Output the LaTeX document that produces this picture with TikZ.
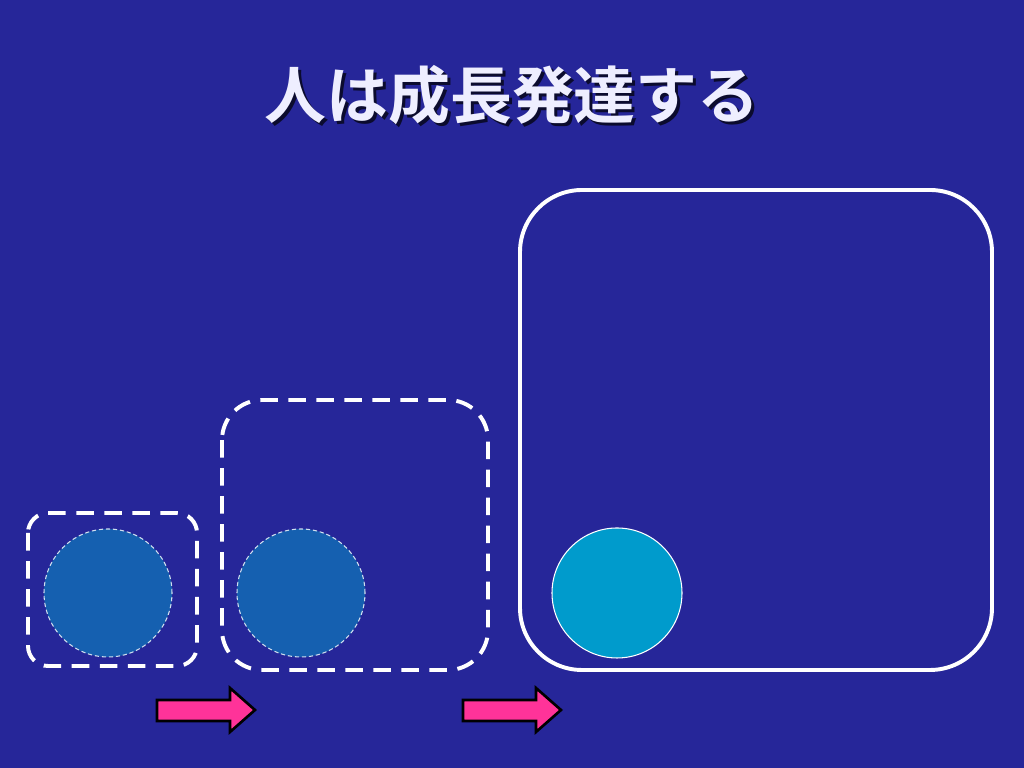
\documentclass[tikz,border=0pt]{standalone}
\usepackage{fontspec}
\newfontfamily\cjk{Noto Sans CJK JP}[BoldFont={* Bold}]
\definecolor{bgblue}{HTML}{262699}
\definecolor{circblue}{HTML}{1560B0}
\definecolor{circcyan}{HTML}{009BCC}
\definecolor{arrpink}{HTML}{FF3399}
\definecolor{titlecol}{HTML}{EEEEFF}
\begin{document}
\begin{tikzpicture}[x=0.01cm,y=-0.01cm,
  stagebox/.style={draw=white,line width=3.2pt*0.35},
  dashbox/.style={stagebox,dash pattern=on 0.5cm*0.35 off 0.3cm*0.35},
  oldcirc/.style={circle,fill=circblue,draw=white!80!circblue,line width=0.3pt,dash pattern=on 1.2pt off 0.8pt,minimum size=128*0.01cm,inner sep=0pt},
  newcirc/.style={circle,fill=circcyan,draw=white,line width=0.3pt,minimum size=130*0.01cm,inner sep=0pt},
  growarrow/.style={fill=arrpink,draw=black,line width=0.75pt,line join=miter},
  titletext/.style={font=\cjk\bfseries\fontsize{17.6pt}{17.6pt}\selectfont},
]
\fill[bgblue] (0,0) rectangle (1024,768);
\useasboundingbox (0,0) rectangle (1024,768);
% title
\node[titletext,text=black!70!bgblue] at (515,98) {人は成長発達する};
\node[titletext,text=titlecol] (title) at (512,95) {人は成長発達する};
% boxes
\draw[dashbox,rounded corners=0.2cm] (28,513) rectangle (197,666);
\draw[dashbox,rounded corners=0.4cm] (222,400) rectangle (488,670);
\draw[stagebox,rounded corners=0.62cm] (520,190) rectangle (992,670);
% circles
\node[oldcirc] (c1) at (108,593) {};
\node[oldcirc] (c2) at (301,593) {};
\node[newcirc] (c3) at (617,593) {};
% arrows
\draw[growarrow] (157,700) -- (230,700) -- (230,688) -- (255,710) -- (230,732) -- (230,721) -- (157,721) -- cycle;
\draw[growarrow] (463,700) -- (536,700) -- (536,688) -- (561,710) -- (536,732) -- (536,721) -- (463,721) -- cycle;
\end{tikzpicture}
\end{document}
